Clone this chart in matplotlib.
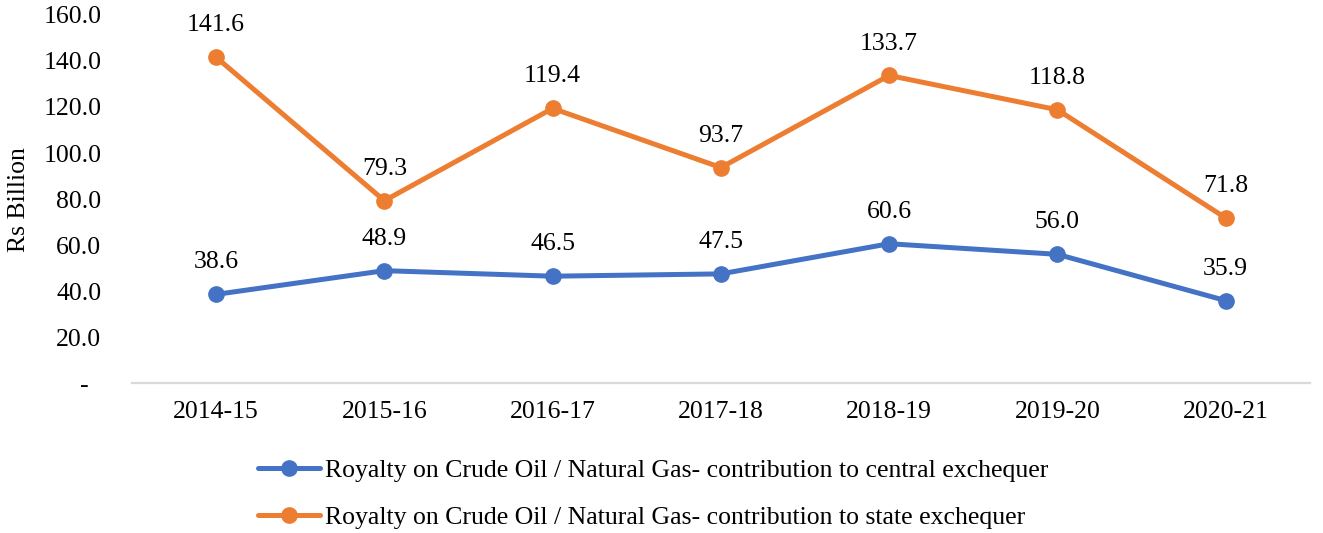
import matplotlib.pyplot as plt

plt.rcParams['font.family'] = ['Liberation Serif', 'DejaVu Serif']

years = ["2014-15", "2015-16", "2016-17", "2017-18", "2018-19", "2019-20", "2020-21"]
central = [38.6, 48.9, 46.5, 47.5, 60.6, 56.0, 35.9]
state = [141.6, 79.3, 119.4, 93.7, 133.7, 118.8, 71.8]
yticks = [0, 20, 40, 60, 80, 100, 120, 140, 160]

blue = "#4472C4"
orange = "#ED7D31"
fs = 18.5

fig = plt.figure(figsize=(13.23, 5.33), dpi=100)
ax = fig.add_axes([0.0998, 0.281, 0.8902, 0.691])

x = list(range(len(years)))
l1, = ax.plot(x, central, color=blue, lw=3.6, marker='o', ms=11, solid_capstyle='round',
              label="Royalty on Crude Oil / Natural Gas- contribution to central exchequer")
l2, = ax.plot(x, state, color=orange, lw=3.6, marker='o', ms=11, solid_capstyle='round',
              label="Royalty on Crude Oil / Natural Gas- contribution to state exchequer")

for series in (central, state):
    for i, v in enumerate(series):
        ax.annotate("%.1f" % v, (i, v), xytext=(0, 23), textcoords='offset points',
                    ha='center', va='center', fontsize=fs)

ax.set_xlim(-0.5, len(years) - 0.5)
ax.set_ylim(0, 160)
ax.set_xticks(x)
ax.set_xticklabels(years, fontsize=fs)
ax.set_yticks(yticks)
ax.set_yticklabels(["-  "] + ["%.1f" % t for t in yticks[1:]], fontsize=fs)
ax.tick_params(axis='both', length=0)
ax.tick_params(axis='x', pad=13)
ax.tick_params(axis='y', pad=22)

for s in ['top', 'right', 'left']:
    ax.spines[s].set_visible(False)
ax.spines['bottom'].set_color('#D9D9D9')
ax.spines['bottom'].set_linewidth(1.6)

fig.text(0.014, 0.281 + 0.691 / 2, "Rs Billion", rotation=90, ha='center', va='center', fontsize=fs)

fig.legend(handles=[l1, l2], loc='upper left', bbox_to_anchor=(0.195, 0.138), frameon=False,
           fontsize=fs, handlelength=2.4, handletextpad=0.2, labelspacing=0.9,
           borderaxespad=0, borderpad=0)

fig.savefig("out.png", dpi=100)
